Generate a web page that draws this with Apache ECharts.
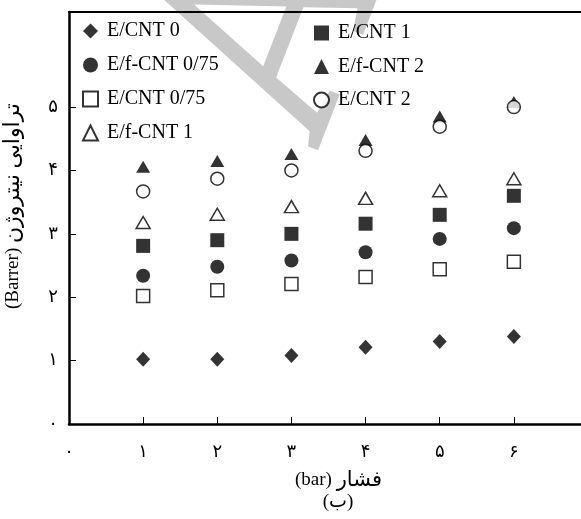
<!DOCTYPE html>
<html>
<head>
<meta charset="utf-8">
<script src="https://cdn.jsdelivr.net/npm/echarts@6/dist/echarts.min.js"></script>
<style>html,body{margin:0;padding:0;background:#fff}#c{width:581px;height:519px}</style>
</head>
<body>
<div id="c"></div>
<script>
const pressures = [1, 2, 3, 4, 5, 6];
const E_CNT_0      = [1.02, 1.02, 1.08, 1.21, 1.30, 1.38];
const Ef_CNT_075   = [2.34, 2.48, 2.58, 2.71, 2.92, 3.09];
const E_CNT_075    = [2.02, 2.11, 2.21, 2.32, 2.44, 2.56];
const Ef_CNT_1     = [3.18, 3.31, 3.43, 3.56, 3.68, 3.87];
const E_CNT_1      = [2.81, 2.90, 3.00, 3.16, 3.30, 3.60];
const Ef_CNT_2     = [4.06, 4.15, 4.26, 4.48, 4.85, 5.08];
const E_CNT_2      = [3.67, 3.87, 4.00, 4.31, 4.69, 5.00];
const xTickLabels = ['۰', '۱', '۲', '۳', '۴', '۵', '۶'];
const yTickLabels = ['۰', '۱', '۲', '۳', '۴', '۵'];
const xNameFa = 'فشار';
const xNameUnit = '(bar)';
const yNameFa = 'تراوایی نیتروژن';
const yNameUnit = '(Barrer)';
const caption = '(ب)';

const serif = 'Liberation Serif, DejaVu Serif, DejaVu Sans, serif';
const pair = arr => pressures.map((p, i) => [p, arr[i]]);
const filled = { color: '#000' };
const open = { color: '#fff', borderColor: '#000', borderWidth: 1.5 };

const chart = echarts.init(document.getElementById('c'), null, { renderer: 'canvas' });
chart.setOption({
  animation: false,
  backgroundColor: '#fff',
  title: {
    text: caption, left: 338, top: 493, textAlign: 'center', padding: 0,
    textStyle: { fontFamily: serif, fontSize: 19, fontWeight: 'normal', color: '#000' }
  },
  graphic: [{
    type: 'text', x: 284, y: 24, rotation: 1.2, z: -10, silent: true,
    style: { text: 'A', font: 'bold 300px Liberation Serif', fill: '#c8c8c8', textAlign: 'center', textVerticalAlign: 'middle' }
  }],
  grid: { left: 69, top: 12, right: -7, bottom: 95, outerBoundsMode: 'none', containLabel: false, show: false },
  legend: [{
    left: 82, top: 21, orient: 'vertical', itemWidth: 15, itemHeight: 15, itemGap: 14, padding: 0,
    textStyle: { fontFamily: serif, fontSize: 20, color: '#000', padding: [0, 0, 0, 4] },
    data: ['E/CNT 0', 'E/f-CNT 0/75', 'E/CNT 0/75', 'E/f-CNT 1']
  }, {
    left: 313, top: 23, orient: 'vertical', itemWidth: 15, itemHeight: 15, itemGap: 13.5, padding: 0,
    textStyle: { fontFamily: serif, fontSize: 20, color: '#000', padding: [0, 0, 0, 4] },
    data: ['E/CNT 1', 'E/f-CNT 2', 'E/CNT 2']
  }],
  xAxis: [{
    type: 'value', min: 0, max: 7, interval: 1,
    name: '{u|' + xNameUnit + '} {f|' + xNameFa + '}', nameLocation: 'middle', nameGap: 46,
    nameTextStyle: { fontFamily: serif, fontSize: 19, color: '#000', padding: [0, 0, 0, 20],
      rich: { u: { fontFamily: serif, fontSize: 19 }, f: { fontFamily: serif, fontSize: 21 } } },
    axisLine: { show: true, onZero: false, lineStyle: { color: '#000', width: 2.5 } },
    axisTick: { show: true, inside: true, length: 7, lineStyle: { color: '#000', width: 1 }, customValues: [1, 2, 3, 4, 5, 6] },
    axisLabel: { margin: 19, fontFamily: serif, fontSize: 18, color: '#000', customValues: [0, 1, 2, 3, 4, 5, 6],
      formatter: v => xTickLabels[Math.round(v)] },
    splitLine: { show: false }
  }, {
    type: 'value', min: 0, max: 7, interval: 1, position: 'top',
    axisLine: { show: true, onZero: false, lineStyle: { color: '#000', width: 2 } },
    axisTick: { show: false }, axisLabel: { show: false }, splitLine: { show: false }
  }],
  yAxis: {
    type: 'value', min: 0, max: 6.5, interval: 1,
    name: '{u|' + yNameUnit + '} {f|' + yNameFa + '}', nameLocation: 'middle', nameGap: 45, nameRotate: 90,
    nameTextStyle: { fontFamily: serif, fontSize: 19, color: '#000', padding: [0, 0, 0, 24],
      rich: { u: { fontFamily: serif, fontSize: 19 }, f: { fontFamily: serif, fontSize: 22 } } },
    axisLine: { show: true, onZero: false, lineStyle: { color: '#000', width: 2.5 } },
    axisTick: { show: true, inside: true, length: 7, lineStyle: { color: '#000', width: 1 }, customValues: [1, 2, 3, 4, 5] },
    axisLabel: { margin: 11, fontFamily: serif, fontSize: 18, color: '#000', customValues: [0, 1, 2, 3, 4, 5],
      formatter: v => yTickLabels[Math.round(v)] },
    splitLine: { show: false }
  },
  series: [
    { name: 'E/CNT 0', type: 'scatter', data: pair(E_CNT_0), symbol: 'diamond', symbolSize: [14, 15], itemStyle: filled },
    { name: 'E/CNT 0/75', type: 'scatter', data: pair(E_CNT_075), symbol: 'rect', symbolSize: 13, itemStyle: open },
    { name: 'E/f-CNT 0/75', type: 'scatter', data: pair(Ef_CNT_075), symbol: 'circle', symbolSize: 14, itemStyle: filled },
    { name: 'E/CNT 1', type: 'scatter', data: pair(E_CNT_1), symbol: 'rect', symbolSize: 14, itemStyle: filled },
    { name: 'E/f-CNT 1', type: 'scatter', data: pair(Ef_CNT_1), symbol: 'triangle', symbolSize: [14, 12], itemStyle: open },
    { name: 'E/f-CNT 2', type: 'scatter', data: pair(Ef_CNT_2), symbol: 'triangle', symbolSize: [14, 12], itemStyle: filled },
    { name: 'E/CNT 2', type: 'scatter', data: pair(E_CNT_2), symbol: 'circle', symbolSize: 13, itemStyle: open }
  ]
});
</script>
</body>
</html>
